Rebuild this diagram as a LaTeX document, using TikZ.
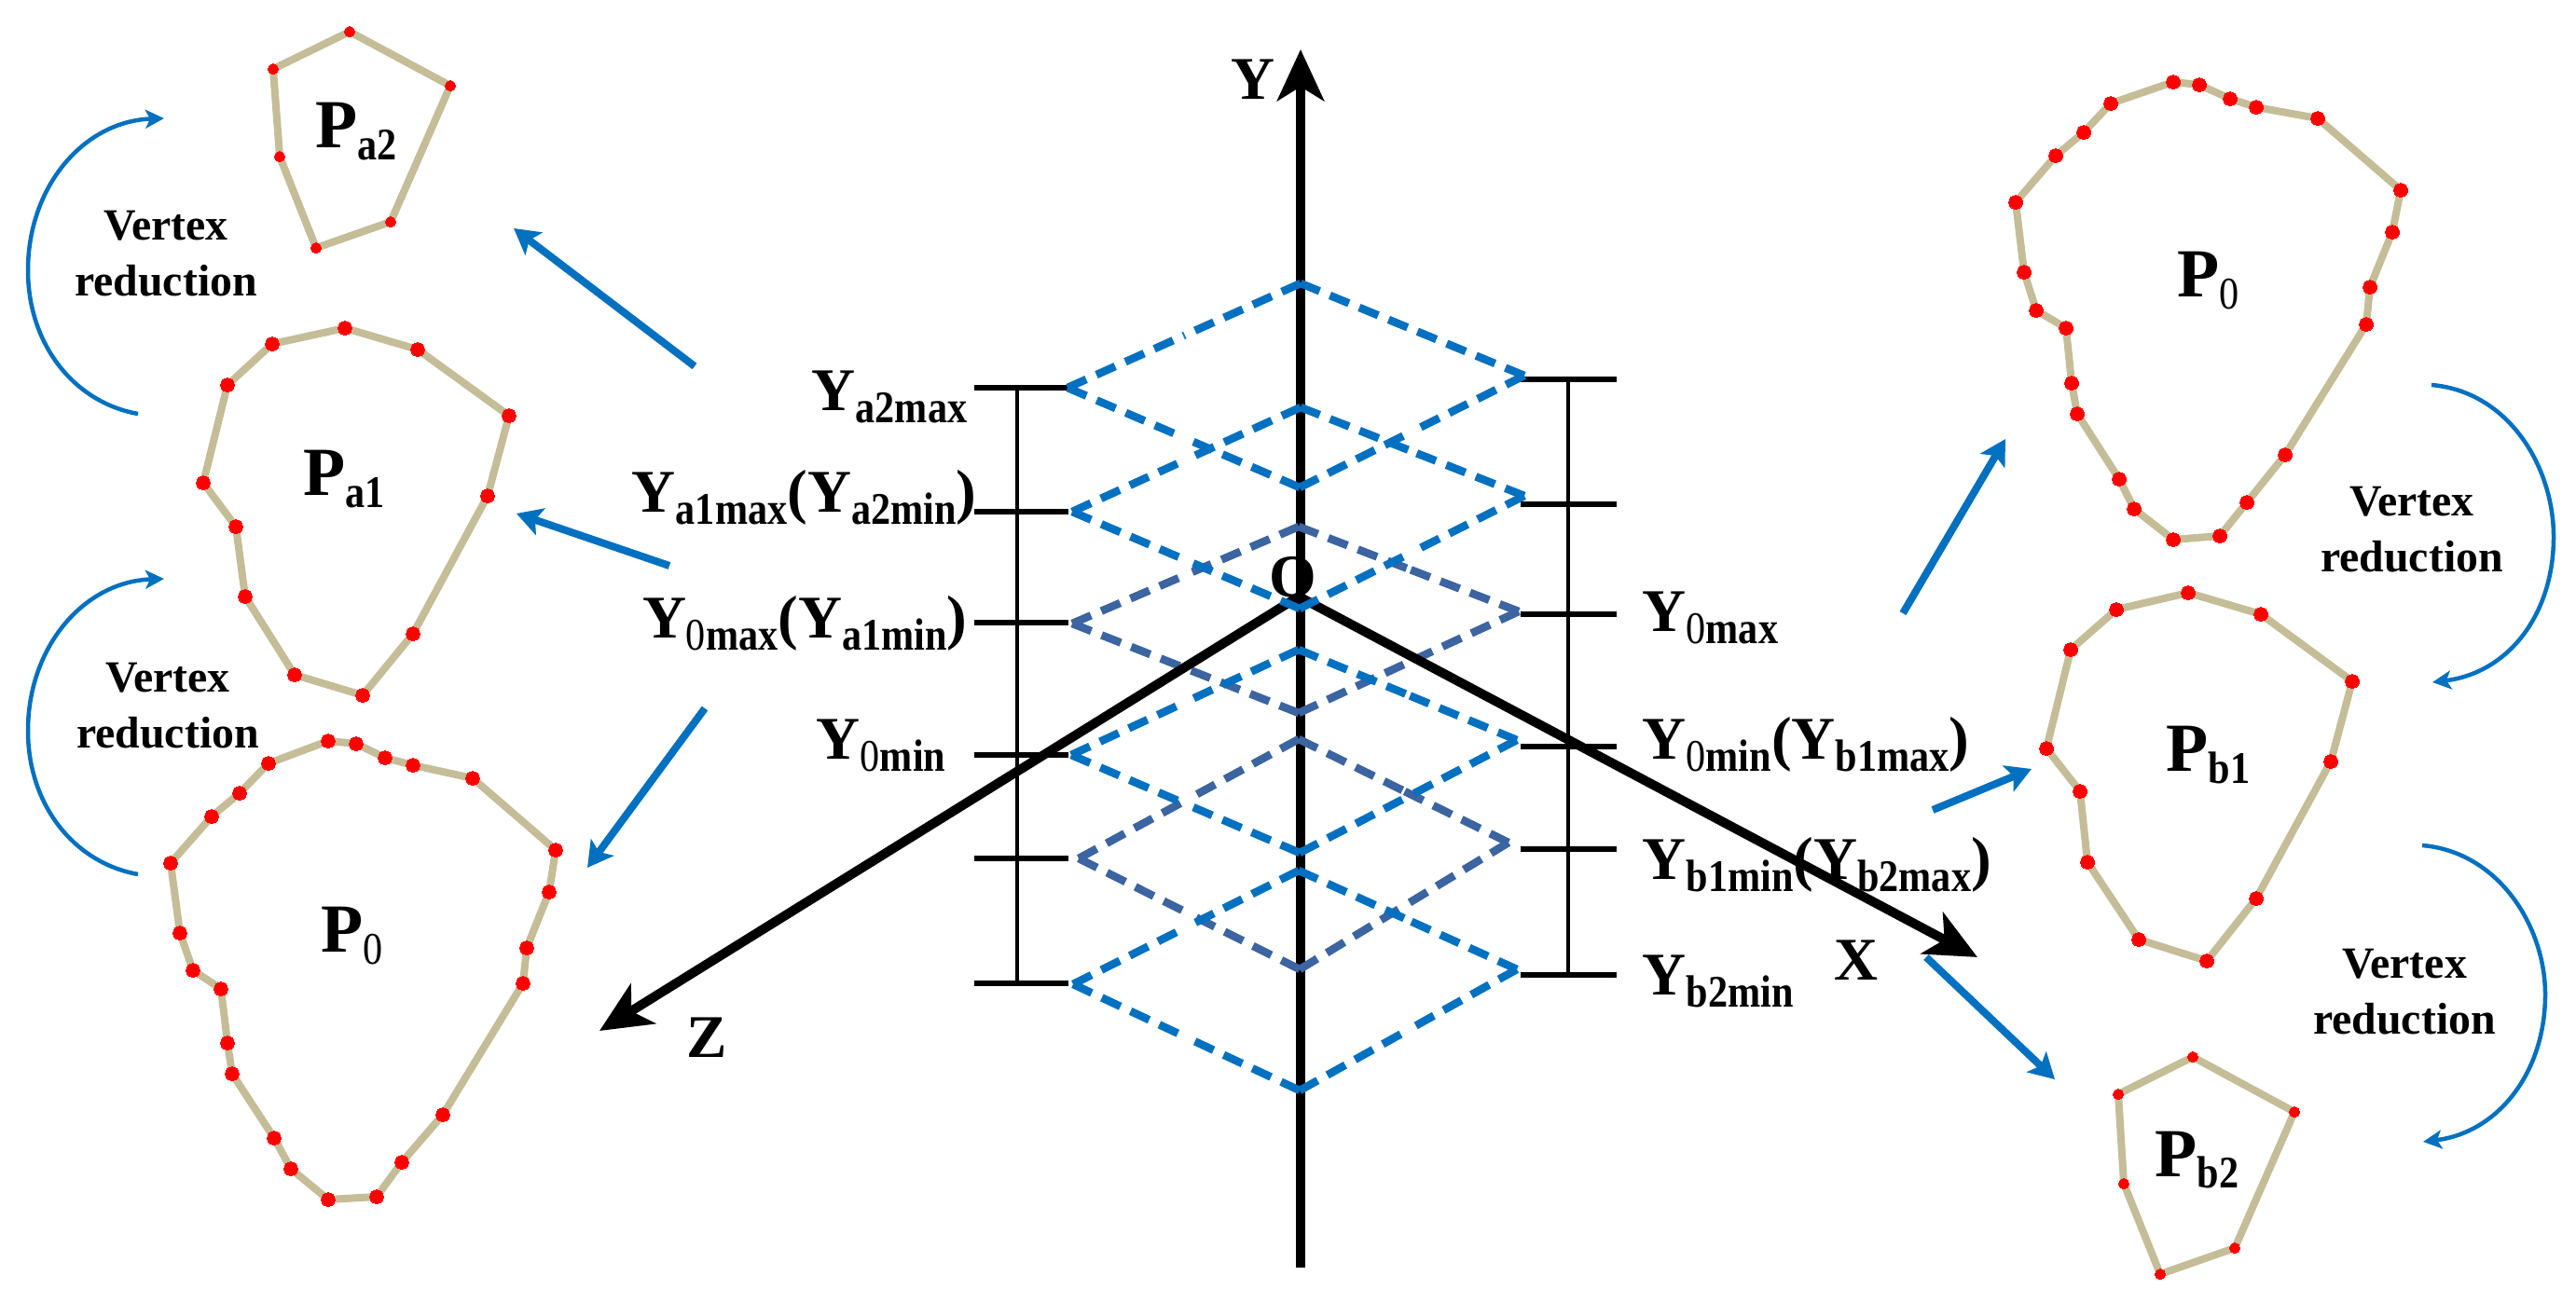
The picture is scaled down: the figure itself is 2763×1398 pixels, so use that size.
\documentclass[tikz,border=0pt]{standalone}
\usepackage{fontspec}
\usepackage{graphicx}
\setmainfont{Liberation Serif}
\usetikzlibrary{arrows.meta,calc}
\definecolor{lineblue}{RGB}{0,112,192}
\definecolor{deepblue}{RGB}{59,100,160}
\definecolor{edgetan}{RGB}{196,189,151}
\newcommand{\lowsub}[1]{\raisebox{-3.5pt}{\scalebox{1}[1.15]{\fontsize{12}{12}\selectfont #1}}}
\newcommand{\zero}{{\mdseries 0}}
\newcommand{\kite}[5]{
    \coordinate (kl) at #2;
    \coordinate (kt) at #3;
    \coordinate (kr) at #4;
    \coordinate (kb) at #5;
    \foreach \a/\b in {kl/kt,kt/kl,kt/kr,kr/kt,kr/kb,kb/kr,kb/kl,kl/kb}
        \draw[#1] (\a) -- ($(\a)!.5!(\b)$);
}

\begin{document}
\begin{tikzpicture}[
    x=0.01cm, y=-0.01cm,
    outline/.style={draw=edgetan, line width=0.08cm, mark=*, mark size=2.1pt, mark options={draw=red, fill=red, line width=0pt}},
    smalloutline/.style={outline, mark size=1.6pt},
    pname/.style={font=\fontsize{21}{24}\selectfont\bfseries, inner sep=0pt},
    level/.style={font=\fontsize{18.5}{22}\selectfont\bfseries, inner sep=0pt},
    note/.style={font=\fontsize{13.6}{17}\selectfont\bfseries, align=center, inner sep=0pt},
    axis/.style={line width=0.1cm, -{Stealth[length=0.55cm, width=0.5cm, inset=0.15cm]}},
    arrow/.style={draw=lineblue, line width=0.08cm, -{Stealth[length=0.27cm, width=0.3cm, inset=0.06cm]}},
    curve/.style={draw=lineblue, line width=0.045cm, -{Stealth[length=0.2cm, width=0.2cm, inset=0.05cm]}},
    bluedash/.style={draw=lineblue, line width=0.085cm, dash pattern=on 0.22cm off 0.12cm},
    deepdash/.style={bluedash, draw=deepblue},
    rail/.style={line width=0.035cm},
    tick/.style={line width=0.055cm}
]
    \useasboundingbox (0,0) rectangle (2763,1398);

    \draw[outline] plot[sharp cycle] coordinates {(352,795) (382,798) (413,813) (443,821) (507,835) (596,912) (589,957) (565,1017) (561,1055) (475,1196) (431,1247) (404,1284) (352,1287) (312,1254) (294,1221) (249,1152) (244,1119) (237,1061) (207,1041) (193,1001) (183,926) (227,876) (257,851) (288,819)};
    \draw[outline] plot[sharp cycle] coordinates {(370,352) (448,375) (546,446) (523,532) (443,680) (389,746) (316,724) (263,640) (253,565) (218,518) (244,413) (292,369)};
    \draw[smalloutline] plot[sharp cycle] coordinates {(375,34) (483,92) (419,238) (339,266) (300,168) (293,74)};
    \draw[outline] plot[sharp cycle] coordinates {(2331,88) (2359,91) (2392,106) (2420,115) (2486,127) (2575,204) (2566,249) (2542,308) (2538,348) (2451,488) (2410,539) (2381,575) (2331,579) (2289,546) (2273,514) (2228,444) (2222,411) (2216,352) (2184,333) (2171,292) (2162,217) (2205,167) (2235,142) (2264,111)};
    \draw[outline] plot[sharp cycle] coordinates {(2347,636) (2425,659) (2523,731) (2500,817) (2420,964) (2367,1031) (2294,1008) (2239,925) (2231,849) (2195,803) (2221,697) (2270,654)};
    \draw[smalloutline] plot[sharp cycle] coordinates {(2352,1134) (2461,1193) (2397,1339) (2317,1367) (2278,1270) (2272,1174)};

    \node[pname, anchor=base west] (pa2) at (338,159) {P\lowsub{a2}};
    \node[pname, anchor=base west] (pa1) at (325,532) {P\lowsub{a1}};
    \node[pname, anchor=base west] (p0a) at (344,1022) {P\lowsub{\zero}};
    \node[pname, anchor=base west] (p0b) at (2335,319) {P\lowsub{\zero}};
    \node[pname, anchor=base west] (pb1) at (2323,828) {P\lowsub{b1}};
    \node[pname, anchor=base west] (pb2) at (2311,1262) {P\lowsub{b2}};

    \node[note] (note1) at (178,272) {Vertex\\reduction};
    \node[note] (note2) at (180,757) {Vertex\\reduction};
    \node[note] (note3) at (2587,568) {Vertex\\reduction};
    \node[note] (note4) at (2579,1064) {Vertex\\reduction};

    \draw[curve] (148,444) .. controls (80,432) and (30,370) .. (30,290) .. controls (30,200) and (90,130) .. (176,127);
    \draw[curve] (148,938) .. controls (80,926) and (30,864) .. (30,784) .. controls (30,694) and (90,624) .. (176,621);
    \draw[curve] (2608,413) .. controls (2690,420) and (2739,500) .. (2739,576) .. controls (2739,660) and (2690,722) .. (2609,732);
    \draw[curve] (2598,907) .. controls (2680,914) and (2730,994) .. (2730,1067) .. controls (2730,1150) and (2680,1215) .. (2599,1225);

    \coordinate (a1s) at (745,393);
    \coordinate (a1e) at (551,245);
    \coordinate (a2s) at (718,607);
    \coordinate (a2e) at (554,551);
    \coordinate (a3s) at (756,760);
    \coordinate (a3e) at (630,931);
    \coordinate (b1s) at (2041,658);
    \coordinate (b1e) at (2151,471);
    \coordinate (b2s) at (2073,869);
    \coordinate (b2e) at (2179,825);
    \coordinate (b3s) at (2066,1027);
    \coordinate (b3e) at (2204,1158);
    \draw[arrow] (a1s) -- (a1e);
    \draw[arrow] (a2s) -- (a2e);
    \draw[arrow] (a3s) -- (a3e);
    \draw[arrow] (b1s) -- (b1e);
    \draw[arrow] (b2s) -- (b2e);
    \draw[arrow] (b3s) -- (b3e);

    \coordinate (ybot) at (1395,1360);
    \coordinate (ytop) at (1395,53);
    \draw[axis] (ybot) -- (ytop);

    \draw[rail] (1091,416) -- (1091,1058);
    \draw[rail] (1682,405) -- (1682,1047);
    \foreach \y in {416,549,668,810,921,1055}
        \draw[tick] (1045,\y) -- (1146,\y);
    \foreach \y in {407,541,659,801,911,1046}
        \draw[tick] (1631,\y) -- (1734,\y);

    \kite{deepdash}{(1150,669)}{(1393,565)}{(1629,656)}{(1393,765)}
    \kite{deepdash}{(1157,921)}{(1393,793)}{(1618,904)}{(1394,1040)}
    \kite{bluedash}{(1145,416)}{(1395,304)}{(1635,403)}{(1394,523)}
    \kite{bluedash}{(1149,810)}{(1393,697)}{(1627,794)}{(1394,915)}
    \kite{bluedash}{(1151,1056)}{(1393,934)}{(1627,1040)}{(1394,1170)}

    \coordinate (orig) at (1393,640);
    \coordinate (xtip) at (2121,1027);
    \coordinate (ztip) at (643,1106);
    \draw[axis] (orig) -- (xtip);
    \draw[axis] (orig) -- (ztip);
    \kite{bluedash}{(1150,549)}{(1395,437)}{(1635,532)}{(1394,653)}

    \node[level] (ylab) at (1344,85) {Y};
    \node[level] (xlab) at (1991,1030) {X};
    \node[level] (zlab) at (758,1113) {Z};
    \node[level] (olab) at (1387,619) {O};

    \node[level, anchor=base east] (ya2max) at (1038,441) {Y\lowsub{a2max}};
    \node[level, anchor=base east] (ya1max) at (1048,550) {Y\lowsub{a1max}(Y\lowsub{a2min})};
    \node[level, anchor=base east] (y0maxa) at (1038,685) {Y\lowsub{\zero max}(Y\lowsub{a1min})};
    \node[level, anchor=base east] (y0mina) at (1015,815) {Y\lowsub{\zero min}};
    \node[level, anchor=base west] (y0maxb) at (1761,678) {Y\lowsub{\zero max}};
    \node[level, anchor=base west] (y0minb) at (1761,815) {Y\lowsub{\zero min}(Y\lowsub{b1max})};
    \node[level, anchor=base west] (yb1min) at (1761,944) {Y\lowsub{b1min}(Y\lowsub{b2max})};
    \node[level, anchor=base west] (yb2min) at (1761,1068) {Y\lowsub{b2min}};
\end{tikzpicture}
\end{document}
